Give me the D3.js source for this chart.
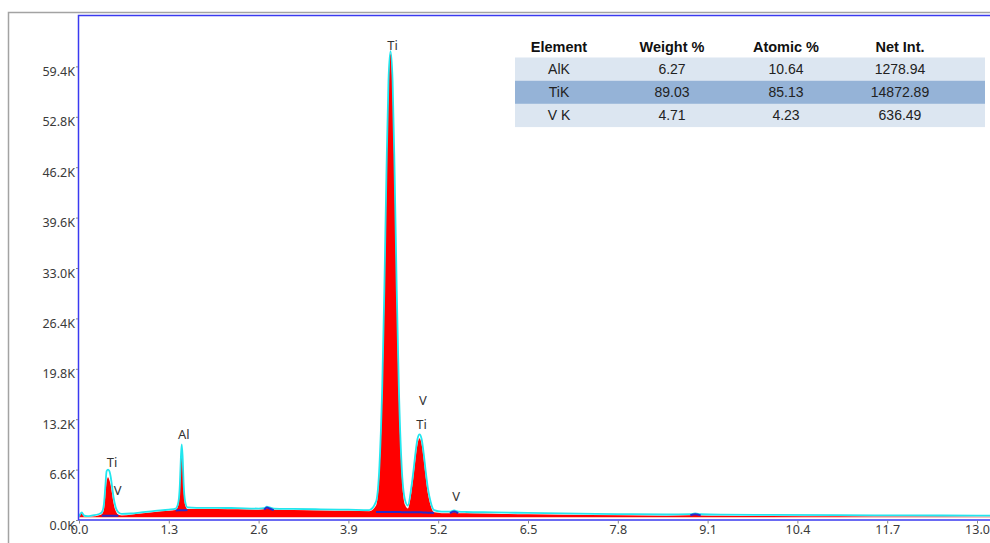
<!DOCTYPE html>
<html lang="en">
  <head>
    <meta charset="utf-8">
    <title>EDS spectrum</title>
    <script src="https://cdn.jsdelivr.net/npm/d3@7"></script>
    <style media="screen">
      body { margin: 0; background: #fff; }
      svg text { font-family: "Noto Sans", sans-serif; }
      svg .tbl text { font-family: "Liberation Sans", Arial, sans-serif; }
    </style>
  </head>
  <body>
    <div id="chart"></div>
    <script type="text/javascript">
      // spectrum data, energy in keV, counts in K
      let energy = [0.00, 0.04, 0.07, 0.12, 0.20, 0.28, 0.33, 0.36, 0.38, 0.40, 0.42, 0.44, 0.46, 0.48, 0.50, 0.53, 0.57, 0.62,
        0.75, 0.90, 1.10, 1.30, 1.40, 1.44, 1.46, 1.475, 1.487, 1.50, 1.515, 1.535, 1.57, 1.70, 2.00, 2.30, 2.60,
        2.68, 2.72, 2.76, 2.82, 3.10, 3.50, 3.90, 4.20, 4.30, 4.35, 4.39, 4.42, 4.45, 4.48, 4.51, 4.54, 4.57, 4.60,
        4.63, 4.67, 4.72, 4.76, 4.81, 4.84, 4.87, 4.90, 4.93, 4.96, 4.99, 5.02, 5.05, 5.09, 5.14, 5.25, 5.37, 5.43,
        5.49, 5.60, 6.00, 6.50, 7.00, 7.80, 8.50, 8.85, 8.92, 9.00, 9.30, 10.0, 11.0, 12.0, 13.0, 13.3];

      let spectrum = [0.35, 0.9, 0.45, 0.4, 0.45, 0.6, 0.75, 1.3, 3.0, 5.0, 5.6, 5.2, 4.5, 3.3, 2.2, 1.2, 0.7, 0.6,
        0.7, 0.85, 1.05, 1.2, 1.3, 2.0, 4.0, 7.5, 9.5, 7.5, 4.0, 2.0, 1.45, 1.45, 1.45, 1.4, 1.35,
        1.4, 1.55, 1.5, 1.35, 1.3, 1.25, 1.2, 1.15, 1.9, 6.2, 16.1, 28.6, 43.5, 56.1, 61.1, 56.1, 43.5, 28.6,
        16.1, 6.2, 2.0, 1.5, 3.5, 5.5, 7.9, 9.9, 10.7, 9.9, 7.9, 5.5, 3.5, 1.9, 1.0, 0.9, 0.9, 1.05,
        0.9, 0.88, 0.82, 0.75, 0.7, 0.62, 0.57, 0.62, 0.68, 0.6, 0.55, 0.52, 0.48, 0.45, 0.43, 0.42];

      let fitted = [0.45, 1.0, 0.6, 0.5, 0.6, 0.75, 1.0, 2.0, 4.2, 6.4, 6.6, 6.4, 5.6, 4.3, 3.0, 1.7, 1.0, 0.8,
        0.85, 1.0, 1.2, 1.35, 1.5, 2.4, 4.6, 8.2, 9.9, 8.3, 4.7, 2.5, 1.65, 1.6, 1.6, 1.55, 1.5,
        1.55, 1.75, 1.65, 1.5, 1.45, 1.4, 1.35, 1.3, 2.4, 7.2, 17.5, 30.0, 45.0, 57.5, 61.4, 57.5, 45.0, 30.0,
        17.5, 7.2, 2.6, 1.9, 4.2, 6.3, 8.7, 10.6, 11.2, 10.6, 8.7, 6.3, 4.2, 2.4, 1.3, 1.1, 1.1, 1.25,
        1.1, 1.05, 1.0, 0.92, 0.86, 0.78, 0.72, 0.78, 0.85, 0.75, 0.7, 0.67, 0.63, 0.6, 0.58, 0.57];

      // background under the peak regions (null = not drawn)
      let background = [null, null, null, null, null, null, 0.55, 0.56, 0.56, 0.57, 0.57, 0.57, 0.57, 0.57, 0.57, 0.57, 0.57, null,
        null, null, null, null, 1.25, 1.27, 1.28, 1.28, 1.28, 1.28, 1.28, 1.28, 1.3, null, null, null, null,
        1.35, 1.65, 1.5, 1.3, null, null, null, null, 1.05, 1.05, 1.05, 1.05, 1.05, 1.05, 1.05, 1.05, 1.05, 1.05,
        1.05, 1.02, 1.0, 1.0, 1.0, 1.0, 1.0, 1.0, 1.0, 1.0, 0.98, 0.97, 0.96, 0.95, 0.93, null, 0.9, 1.1,
        0.9, null, null, null, null, null, null, 0.62, 0.75, 0.6, null, null, null, null, null, null];

      let baseline = 0.35;

      let yTicks = [0, 6.6, 13.2, 19.8, 26.4, 33.0, 39.6, 46.2, 52.8, 59.4];
      let xTicks = [0.0, 1.3, 2.6, 3.9, 5.2, 6.5, 7.8, 9.1, 10.4, 11.7, 13.0];

      // peak markers: label, energy, label height (K)
      let peakNames = ["Ti", "V", "Al", "Ti", "Ti", "V", "V"];
      let peakEnergy = [0.45, 0.53, 1.487, 4.51, 4.93, 4.95, 5.43];
      let peakLabelY = [7.5, 3.9, 11.2, 62.1, 12.5, 15.6, 3.1];

      // quantification table
      let elements = ["AlK", "TiK", "V K"];
      let weightPct = ["6.27", "89.03", "4.71"];
      let atomicPct = ["10.64", "85.13", "4.23"];
      let netInt = ["1278.94", "14872.89", "636.49"];
      let headers = ["Element", "Weight %", "Atomic %", "Net Int."];

      let w = 990;
      let h = 543;
      let padL = 79, padR = 977, padT = 16, padB = 520;

      let svg = d3.select("#chart").append("svg")
                  .attr("width", w)
                  .attr("height", h);

      let x = d3.scaleLinear().domain([0, 13]).range([padL, padR]);
      let y = d3.scaleLinear().domain([0, 66]).range([padB, padT]);

      // outer grey frame
      svg.append("path")
         .attr("d", "M8.5," + h + "V12.5H" + w)
         .attr("fill", "none")
         .attr("stroke", "#a3a3a3")
         .attr("stroke-width", 1.5);

      svg.append("clipPath").attr("id", "plotclip")
         .append("rect")
         .attr("x", padL).attr("y", padT)
         .attr("width", w - padL).attr("height", padB - padT);

      let pts = energy.map(function(e, i) {
        return { e: e, s: spectrum[i], f: fitted[i], b: background[i] };
      });

      let plot = svg.append("g").attr("clip-path", "url(#plotclip)");

      plot.append("path")
          .datum(pts)
          .attr("fill", "#ff0000")
          .attr("d", d3.area()
              .x(d => x(d.e))
              .y0(y(baseline))
              .y1(d => y(d.s))
              .curve(d3.curveMonotoneX));

      plot.append("path")
          .datum(pts)
          .attr("fill", "none")
          .attr("stroke", "#22e6ee")
          .attr("stroke-width", 1.8)
          .attr("d", d3.line()
              .x(d => x(d.e))
              .y(d => y(d.f))
              .curve(d3.curveMonotoneX));

      plot.append("path")
          .datum(pts)
          .attr("fill", "none")
          .attr("stroke", "#2a2ac8")
          .attr("stroke-width", 2)
          .attr("d", d3.line()
              .defined(d => d.b !== null)
              .x(d => x(d.e))
              .y(d => y(d.b))
              .curve(d3.curveMonotoneX));

      // blue plot border
      svg.append("rect")
         .attr("x", padL - 0.5)
         .attr("y", padT - 0.5)
         .attr("width", w)
         .attr("height", padB - padT + 0.5)
         .attr("fill", "none")
         .attr("stroke", "#3a3af0")
         .attr("stroke-width", 1.5);

      // axes
      let yAxis = svg.append("g")
         .attr("transform", "translate(" + (padL - 1) + ",0)")
         .call(d3.axisLeft(y).tickValues(yTicks).tickSize(2).tickPadding(1)
               .tickFormat(d => d.toFixed(1) + "K"));
      yAxis.select(".domain").remove();
      yAxis.selectAll("line").attr("stroke", "#888");
      yAxis.selectAll("text")
           .attr("dy", "0")
           .attr("y", 9)
           .attr("font-size", "12.5px")
           .attr("fill", "#3a3a3a");

      let xAxis = svg.append("g")
         .attr("transform", "translate(0," + (padB + 0.5) + ")")
         .call(d3.axisBottom(x).tickValues(xTicks).tickSize(3).tickPadding(2)
               .tickFormat(d => d.toFixed(1)));
      xAxis.select(".domain").remove();
      xAxis.selectAll("line").attr("stroke", "#888");
      xAxis.selectAll("text")
           .attr("font-size", "12.5px")
           .attr("fill", "#3a3a3a");

      // peak labels
      svg.selectAll("text.peak")
         .data(peakNames)
         .enter()
         .append("text")
         .attr("class", "peak")
         .text(d => d)
         .attr("x", (d, i) => x(peakEnergy[i]) + 2)
         .attr("y", (d, i) => y(peakLabelY[i]))
         .attr("dy", "0.35em")
         .attr("text-anchor", "middle")
         .attr("font-size", "13px")
         .attr("fill", "#333");

      // table
      let colX = [559, 672, 786, 900];
      let rowH = 23.2;
      let rowTop = 57.5;
      let table = svg.append("g").attr("class", "tbl");

      table.selectAll("rect")
           .data(elements)
           .enter()
           .append("rect")
           .attr("x", 515)
           .attr("y", (d, i) => rowTop + i * rowH)
           .attr("width", 470)
           .attr("height", rowH)
           .attr("fill", (d, i) => i === 1 ? "#95b3d7" : "#dce6f1");

      table.selectAll("text.head")
           .data(headers)
           .enter()
           .append("text")
           .attr("class", "head")
           .text(d => d)
           .attr("x", (d, i) => colX[i])
           .attr("y", 47)
           .attr("dy", "0.35em")
           .attr("text-anchor", "middle")
           .attr("font-weight", "bold")
           .attr("font-size", "14.5px")
           .attr("fill", "#111");

      let cols = [elements, weightPct, atomicPct, netInt];
      cols.forEach(function(col, c) {
        table.selectAll("text.c" + c)
             .data(col)
             .enter()
             .append("text")
             .attr("class", "c" + c)
             .text(d => d)
             .attr("x", colX[c])
             .attr("y", (d, i) => rowTop + i * rowH + rowH / 2)
             .attr("dy", "0.35em")
             .attr("text-anchor", "middle")
             .attr("font-size", "14px")
             .attr("fill", "#222");
      });
    </script>
  </body>
</html>
